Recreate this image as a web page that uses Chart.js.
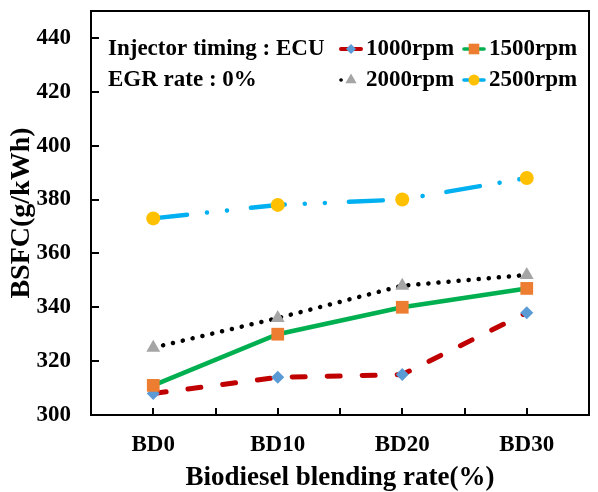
<!DOCTYPE html>
<html><head><meta charset="utf-8">
<script src="https://cdn.jsdelivr.net/npm/chart.js@4.4.1/dist/chart.umd.min.js"></script>
<style>html,body{margin:0;padding:0;background:#fff;} canvas{display:block;}</style>
</head><body>
<canvas id="c" width="598" height="492"></canvas>
<script>
const categories = ['BD0', 'BD10', 'BD20', 'BD30'];
const seriesNames = ['1000rpm', '1500rpm', '2000rpm', '2500rpm'];
const rpm1000 = [308, 314, 315, 338];
const rpm1500 = [311, 330, 340, 347];
const rpm2000 = [325, 336, 348, 352];
const rpm2500 = [373, 378, 380, 388];
const yTickValues = [300, 320, 340, 360, 380, 400, 420, 440];
const annotationLines = ['Injector timing : ECU', 'EGR rate : 0%'];
const xTitle = 'Biodiesel blending rate(%)';
const yTitle = 'BSFC(g/kWh)';

const FONT = "'Liberation Serif','Times New Roman',serif";

function mk(label, data, line, dash, width, cap, pstyle, pcolor, prad, order) {
  return {
    label, data, borderColor: line, backgroundColor: pcolor,
    borderWidth: width, borderDash: dash, borderCapStyle: cap, tension: 0,
    pointStyle: pstyle, pointRadius: prad, pointBackgroundColor: pcolor,
    pointBorderColor: pcolor, pointBorderWidth: 0, pointHoverRadius: prad, order, fill: false
  };
}

const datasets = [
  mk(seriesNames[0], rpm1000, '#C00000', [13, 22], 5, 'round', 'rectRot', '#5B9BD5', 6.5, 4),
  mk(seriesNames[1], rpm1500, '#00B050', [], 4.5, 'round', 'rect', '#ED7D31', 9, 3),
  mk(seriesNames[2], rpm2000, '#000000', [0.1, 10], 4.5, 'round', 'triangle', '#A5A5A5', 8, 2),
  mk(seriesNames[3], rpm2500, '#00B0F0', [34, 20, 0.1, 20, 0.1, 24], 4.5, 'round', 'circle', '#FFC000', 7, 1)
];

function marker(ctx, style, r, x, y, color) {
  ctx.save();
  ctx.fillStyle = color;
  if (Chart.helpers && Chart.helpers.drawPoint) {
    ctx.strokeStyle = color; ctx.lineWidth = 0.01;
    Chart.helpers.drawPoint(ctx, {pointStyle: style, radius: r, rotation: 0, borderWidth: 0}, x, y);
  } else {
    ctx.beginPath();
    if (style === 'circle') ctx.arc(x, y, r, 0, Math.PI * 2);
    else if (style === 'rect') { const s = r * Math.SQRT1_2; ctx.rect(x - s, y - s, 2 * s, 2 * s); }
    else if (style === 'rectRot') { ctx.moveTo(x, y - r); ctx.lineTo(x + r, y); ctx.lineTo(x, y + r); ctx.lineTo(x - r, y); ctx.closePath(); }
    else if (style === 'triangle') { ctx.moveTo(x, y - r); ctx.lineTo(x + r * 0.866, y + r / 2); ctx.lineTo(x - r * 0.866, y + r / 2); ctx.closePath(); }
    ctx.fill();
  }
  ctx.restore();
}

const framePlugin = {
  id: 'frame',
  afterDraw(chart) {
    const {ctx, chartArea: a} = chart;
    const xs = chart.scales.x, ys = chart.scales.y;
    ctx.save();
    ctx.setLineDash([]);
    ctx.fillStyle = '#000';
    yTickValues.forEach(v => {
      const py = Math.round(ys.getPixelForValue(v));
      ctx.fillRect(Math.round(a.left), py - 1, 8, 2);
    });
    for (let i = 0; i < categories.length; i++) {
      const px = Math.round(xs.getPixelForValue(i));
      ctx.fillRect(px - 1, a.bottom - 7, 2, 7);
      if (i < categories.length - 1) {
        const mx = Math.round((xs.getPixelForValue(i) + xs.getPixelForValue(i + 1)) / 2);
        ctx.fillRect(mx - 1, a.bottom - 7, 2, 7);
      }
    }
    ctx.strokeStyle = '#000';
    ctx.lineWidth = 2;
    ctx.strokeRect(a.left, a.top, a.right - a.left, a.bottom - a.top);

    ctx.font = "bold 23px " + FONT;
    ctx.textBaseline = 'middle';
    ctx.textAlign = 'left';
    const rowsY = [49, 80];
    ctx.fillText(annotationLines[0], 108, rowsY[0]);
    ctx.fillText(annotationLines[1], 108, rowsY[1]);
    const colsX = [339, 462];
    chart.data.datasets.forEach((ds, i) => {
      const x0 = colsX[i % 2], y0 = rowsY[Math.floor(i / 2)];
      ctx.save();
      ctx.strokeStyle = ds.borderColor;
      ctx.lineWidth = ds.borderWidth * 0.8;
      ctx.lineCap = 'round';
      ctx.setLineDash(i === 2 ? [0.1, 10] : []);
      ctx.beginPath(); ctx.moveTo(x0 + 2, y0); ctx.lineTo(x0 + 22, y0); ctx.stroke();
      ctx.restore();
      const rr = {rectRot: 5, rect: 7.5, triangle: 6.5, circle: 5.5}[ds.pointStyle];
      marker(ctx, ds.pointStyle, rr, x0 + 12, y0, ds.pointBackgroundColor);
      ctx.fillStyle = '#000';
      ctx.fillText(ds.label, x0 + 27, y0);
    });
    ctx.restore();
  }
};

new Chart(document.getElementById('c'), {
  type: 'line',
  data: {labels: categories, datasets},
  options: {
    responsive: false,
    animation: false,
    devicePixelRatio: 1,
    layout: {padding: {top: 11, right: 1, left: 0, bottom: 0}},
    plugins: {legend: {display: false}, tooltip: {enabled: false}},
    scales: {
      x: {
        type: 'category',
        offset: true,
        grid: {display: false, drawTicks: false},
        border: {display: false},
        ticks: {color: '#000', padding: 19, maxRotation: 0, font: {family: FONT, size: 23, weight: 'bold', lineHeight: 1}},
        title: {display: true, text: xTitle, color: '#000', padding: {top: 1, bottom: 0},
                font: {family: FONT, size: 27, weight: 'bold', lineHeight: 1}},
        afterFit(s) { s.height = 77; s.paddingLeft = 0; s.paddingRight = 0; }
      },
      y: {
        min: 300, max: 450,
        grid: {display: false, drawTicks: false},
        border: {display: false},
        afterBuildTicks(s) { s.ticks = yTickValues.map(v => ({value: v})); },
        ticks: {color: '#000', padding: 20, font: {family: FONT, size: 23, weight: 'bold', lineHeight: 1}},
        title: {display: true, text: yTitle, color: '#000', padding: {top: 8, bottom: 0},
                font: {family: FONT, size: 28, weight: 'bold', lineHeight: 1}},
        afterFit(s) { s.width = 91; s.paddingTop = 0; s.paddingBottom = 0; }
      }
    }
  },
  plugins: [framePlugin]
});
</script>
</body></html>
